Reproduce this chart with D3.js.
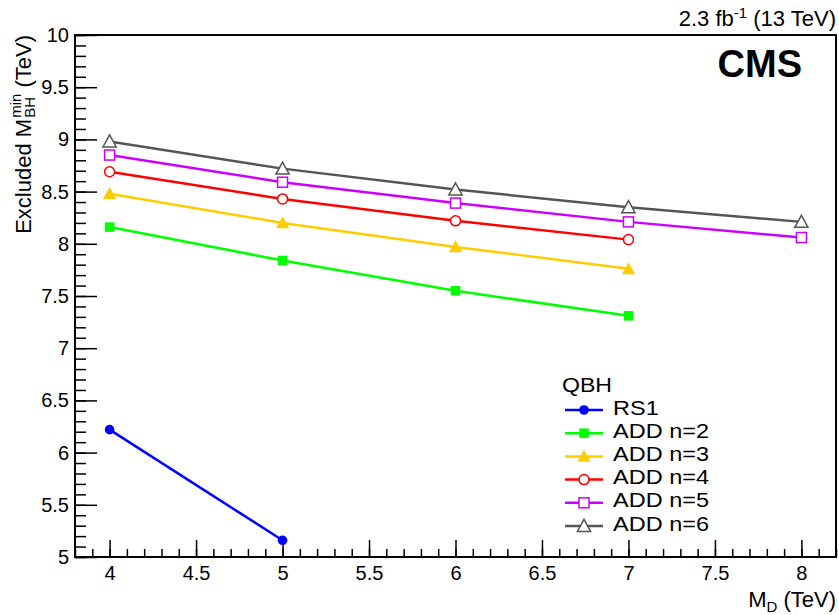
<!DOCTYPE html>
<html>
<head>
<meta charset="utf-8">
<script src="https://cdn.jsdelivr.net/npm/d3@7"></script>
<style>
  body { margin: 0; background: #fff; }
  svg text { font-family: "Liberation Sans", Arial, Helvetica, sans-serif; fill: #000; white-space: pre; }
</style>
</head>
<body>
<svg id="chart" width="839" height="615"></svg>
<script>
// M_D points (TeV)
const mdValues = [4, 5, 6, 7, 8];

// excluded M_BH^min (TeV) per model, one value per M_D point
const rs1 = [6.22, 5.16];
const add2 = [8.16, 7.84, 7.55, 7.31];
const add3 = [8.48, 8.20, 7.97, 7.76];
const add4 = [8.69, 8.43, 8.22, 8.04];
const add5 = [8.85, 8.59, 8.39, 8.21, 8.06];
const add6 = [8.98, 8.72, 8.52, 8.35, 8.21];

const seriesNames = ['RS1', 'ADD n=2', 'ADD n=3', 'ADD n=4', 'ADD n=5', 'ADD n=6'];
const seriesValues = [rs1, add2, add3, add4, add5, add6];
const colors = ['#0000ff', '#00ff00', '#ffcc00', '#ff0000', '#cc00ff', '#555555'];
const markers = ['circle', 'square', 'triangle', 'circle', 'square', 'triangle'];
const filled = [true, true, true, false, false, false];

const xTicks = [4, 4.5, 5, 5.5, 6, 6.5, 7, 7.5, 8];
const yTicks = [5, 5.5, 6, 6.5, 7, 7.5, 8, 8.5, 9, 9.5, 10];

const margin = { top: 35, right: 3, bottom: 58, left: 75 },
  width = 839 - margin.left - margin.right,
  height = 615 - margin.top - margin.bottom;

const svg = d3.select('#chart');
const g = svg.append('g').attr('transform', `translate(${margin.left}, ${margin.top})`);

const x = d3.scaleLinear().domain([3.8, 8.2]).range([0, width]);
const y = d3.scaleLinear().domain([5, 10]).range([height, 0]);

// minor ticks every 0.1
const xMinor = d3.range(38, 83).map((d) => d / 10);
const yMinor = d3.range(50, 101).map((d) => d / 10);

g.append('g')
  .attr('class', 'x-minor')
  .attr('transform', `translate(0, ${height})`)
  .call(d3.axisBottom(x).tickValues(xMinor).tickSize(-8).tickFormat(''));
g.append('g')
  .attr('class', 'x-axis')
  .attr('transform', `translate(0, ${height})`)
  .call(d3.axisBottom(x).tickValues(xTicks).tickSize(-17).tickPadding(9).tickFormat(d3.format('')));

g.append('g')
  .attr('class', 'y-minor')
  .call(d3.axisLeft(y).tickValues(yMinor).tickSize(-11).tickFormat(''));
g.append('g')
  .attr('class', 'y-axis')
  .call(d3.axisLeft(y).tickValues(yTicks).tickSize(-22).tickPadding(6).tickFormat(d3.format('')));

g.selectAll('.domain').remove();
g.selectAll('.tick line').attr('stroke', '#000').attr('stroke-width', 1.5);
g.selectAll('.x-axis .tick text, .y-axis .tick text')
  .attr('font-size', 20)
  .style('font-family', '"Liberation Sans", Arial, sans-serif');

// frame
g.append('rect')
  .attr('width', width)
  .attr('height', height)
  .attr('fill', 'none')
  .attr('stroke', '#000')
  .attr('stroke-width', 2);

function drawMarker(sel, type, color, isFilled, size) {
  let m;
  if (type === 'circle') {
    m = sel.append('circle').attr('r', isFilled ? size * 0.48 : size * 0.5);
  } else if (type === 'square') {
    const s = isFilled ? size * 0.95 : size;
    m = sel.append('rect').attr('x', -s / 2).attr('y', -s / 2).attr('width', s).attr('height', s);
  } else {
    const s = size * 1.2;
    m = sel.append('path').attr('d', `M0,${-s * 0.55}L${s * 0.55},${s * 0.45}L${-s * 0.55},${s * 0.45}Z`);
  }
  m.attr('fill', isFilled ? color : '#fff')
    .attr('stroke', color)
    .attr('stroke-width', isFilled ? 0 : 1.5);
}

const line = d3.line()
  .x((d, i) => x(mdValues[i]))
  .y((d) => y(d));

seriesValues.forEach((vals, k) => {
  g.append('path')
    .attr('fill', 'none')
    .attr('stroke', colors[k])
    .attr('stroke-width', 2.5)
    .attr('d', line(vals));
  vals.forEach((v, i) => {
    const mg = g.append('g').attr('transform', `translate(${x(mdValues[i])}, ${y(v)})`);
    drawMarker(mg, markers[k], colors[k], filled[k], 10);
  });
});

// legend (text a bit wider than Liberation, like the ROOT rendering)
const legend = svg.append('g').attr('transform', 'translate(562, 392)');
legend.append('g').attr('transform', 'scale(1.1, 1)')
  .append('text').attr('font-size', 21).text('QBH');
const rowY = d3.scaleLinear().domain([0, 1]).range([18, 41.2]);
seriesNames.forEach((name, k) => {
  const row = legend.append('g').attr('transform', `translate(0, ${rowY(k)})`);
  row.append('line')
    .attr('x1', 3).attr('x2', 41)
    .attr('stroke', colors[k])
    .attr('stroke-width', 2.5);
  const mg = row.append('g').attr('transform', 'translate(22, 0)');
  drawMarker(mg, markers[k], colors[k], filled[k], 10);
  row.append('g')
    .attr('transform', 'translate(51, 4.5) scale(1.12, 1)')
    .append('text')
    .attr('font-size', 21)
    .text(name);
});

// CMS label
svg.append('text')
  .attr('x', 802).attr('y', 77)
  .attr('text-anchor', 'end')
  .attr('font-size', 38)
  .attr('font-weight', 'bold')
  .text('CMS');

// lumi label
const lumi = svg.append('text')
  .attr('x', 836).attr('y', 26)
  .attr('text-anchor', 'end')
  .attr('font-size', 22);
lumi.append('tspan').text('2.3 fb');
lumi.append('tspan').attr('dy', -8).attr('font-size', 15).text('-1');
lumi.append('tspan').attr('dy', 8).text(' (13 TeV)');

// x title
const xt = svg.append('text')
  .attr('x', 836).attr('y', 607)
  .attr('text-anchor', 'end')
  .attr('font-size', 22);
xt.append('tspan').text('M');
xt.append('tspan').attr('dy', 5).attr('font-size', 15).text('D');
xt.append('tspan').attr('dy', -5).text(' (TeV)');

// y title, built left to right in rotated frame then right-aligned to the top of the frame
const yt = svg.append('g');
const p1 = yt.append('text').attr('font-size', 22).text('Excluded M');
const w1 = p1.node().getComputedTextLength();
const sup = yt.append('text').attr('x', w1 + 1).attr('y', -10).attr('font-size', 15).text('min');
const sub = yt.append('text').attr('x', w1 + 1).attr('y', 4).attr('font-size', 15).text('BH');
const w2 = Math.max(sup.node().getComputedTextLength(), sub.node().getComputedTextLength());
const p3 = yt.append('text').attr('x', w1 + 1 + w2).attr('font-size', 22).text(' (TeV)');
const total = w1 + 1 + w2 + p3.node().getComputedTextLength();
yt.attr('transform', `translate(31, ${margin.top + total}) rotate(-90)`);
</script>
</body>
</html>
